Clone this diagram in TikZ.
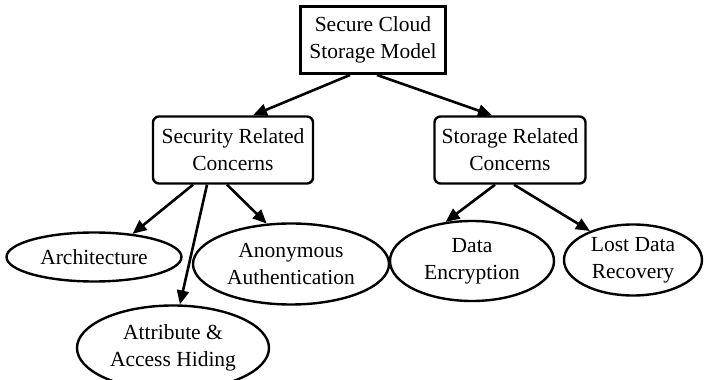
\documentclass[tikz,border=0pt]{standalone}
\usepackage{fontspec}
\setmainfont{Liberation Serif}
\usetikzlibrary{arrows.meta,shapes.geometric,calc}
\begin{document}
\begin{tikzpicture}[x=1pt,y=1pt,
  txt/.style={align=center,inner sep=0pt,font=\fontsize{21.5}{27}\selectfont},
  topbox/.style={txt,draw,line width=3pt,minimum width=145pt,minimum height=67pt},
  midbox/.style={txt,draw,line width=2.4pt,rounded corners=6pt,minimum height=67pt},
  oval/.style={txt,draw,ellipse,line width=2.4pt},
  arr/.style={line width=2.6pt,-{Triangle[length=14pt,width=12pt]}}]
\useasboundingbox (0,0) rectangle (704,380);
\clip (0,0) rectangle (704,380);
\node[topbox] (top) at (373,340) {Secure Cloud\\Storage Model};
\node[midbox,minimum width=160pt] (sec) at (233,230) {Security Related\\Concerns};
\node[midbox,minimum width=151pt] (sto) at (510,230) {Storage Related\\Concerns};
\node[oval,minimum width=175pt,minimum height=49pt] (arch) at (94,123) {Architecture};
\node[oval,minimum width=196pt,minimum height=81pt] (anon) at (291,116) {Anonymous\\Authentication};
\node[oval,minimum width=192pt,minimum height=85pt] (attr) at (173,32) {Attribute \&\\Access Hiding};
\node[oval,minimum width=164pt,minimum height=80pt] (data) at (472,119) {Data\\Encryption};
\node[oval,minimum width=138pt,minimum height=71pt] (lost) at (633,120) {Lost Data\\Recovery};
\draw[arr] ($(top.south)+(-23pt,0)$) -- ($(sec.north)+(20pt,0)$);
\draw[arr] ($(top.south)+(4pt,0)$) -- ($(sto.north)+(-18pt,0)$);
\draw[arr] ($(sec.south)+(-40pt,0)$) -- (arch.31.6);
\draw[arr] ($(sec.south)+(-26pt,0)$) -- (attr.81.9);
\draw[arr] ($(sec.south)+(-6pt,0)$) -- (anon.121.4);
\draw[arr] ($(sto.south)+(-15pt,0)$) -- (data.124.7);
\draw[arr] ($(sto.south)+(4pt,0)$) -- (lost.146.3);
\end{tikzpicture}
\end{document}
